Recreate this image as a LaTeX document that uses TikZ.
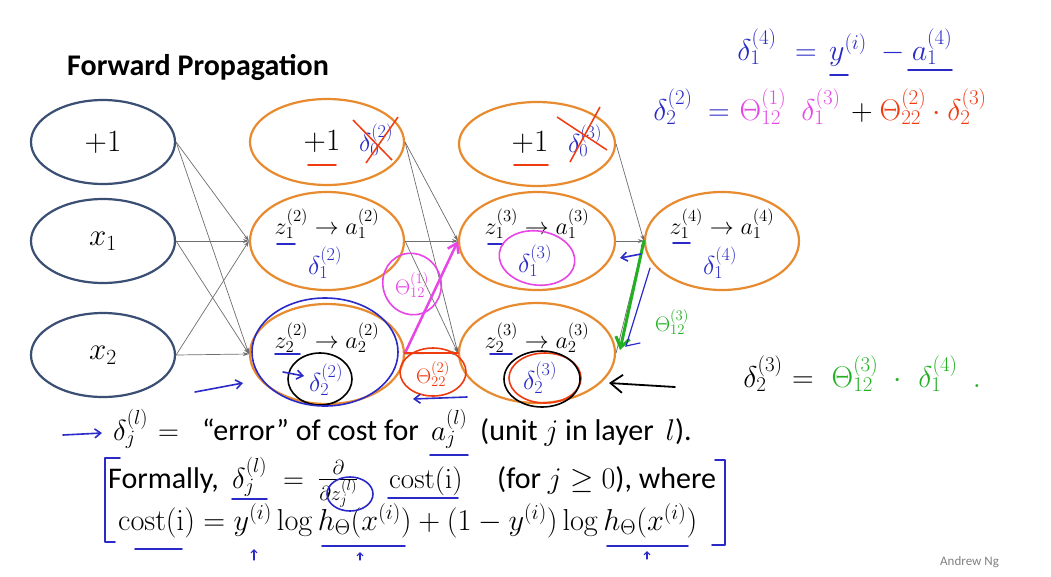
\RequirePackage{fix-cm}
\documentclass[tikz,border=0pt]{standalone}
\usepackage[no-math]{fontspec}
\setmainfont{Carlito}
\usepackage{graphicx}
\usetikzlibrary{shapes.geometric,arrows.meta}
\definecolor{inkA}{HTML}{3A4F73}
\definecolor{orng}{HTML}{E88A2E}
\definecolor{hblue}{HTML}{2A2AC8}
\definecolor{hmag}{HTML}{E646E6}
\definecolor{hred}{HTML}{F03A10}
\definecolor{hgreen}{HTML}{22B022}
\definecolor{lgray}{HTML}{6E6E6E}
\begin{document}
\begin{tikzpicture}[x=1pt,y=-1pt,
  inL/.style={ellipse,draw=inkA,line width=2.2pt,minimum width=144pt,minimum height=84pt,inner sep=0pt,font=\fontsize{31}{34}\selectfont},
  hid/.style={ellipse,draw=orng,line width=2.2pt,inner sep=0pt},
  conn/.style={draw=lgray,line width=0.7pt,-{Stealth[length=6pt,width=4pt]}},
  bigtxt/.style={font=\fontsize{31}{34}\selectfont,inner sep=0pt},
  ztxt/.style={font=\fontsize{24}{28}\selectfont,inner sep=0pt},
  hw/.style={font=\fontsize{26}{30}\selectfont,inner sep=0pt},
  hwb/.style={font=\fontsize{30}{34}\selectfont,inner sep=0pt,anchor=base},
  hws/.style={font=\fontsize{21}{24}\selectfont,inner sep=0pt},
  hline/.style={line width=1.6pt,line cap=round},
  hcirc/.style={ellipse,draw,line width=1.6pt,inner sep=0pt},
  harr/.style={line width=1.6pt,line cap=round,-{Straight Barb[length=6pt,width=9pt]}},
  body/.style={font=\fontsize{30}{34}\selectfont,anchor=base west,inner sep=0pt},
  bmath/.style={font=\fontsize{29}{32}\selectfont,anchor=base west,inner sep=0pt},
]
\useasboundingbox (0,0) rectangle (1051,576);
\fill[white] (0,0) rectangle (1051,576);

% title
\node[font=\fontsize{30}{34}\selectfont\bfseries,anchor=base west,inner sep=0pt] (title) at (67,75) {Forward Propagation};

% layer 1
\node[inL] (i0) at (103,142) {$+1$};
\node[inL] (i1) at (103,241) {$x_1$};
\node[inL] (i2) at (103,355) {$x_2$};
% layer 2
\node[hid,minimum width=154pt,minimum height=86pt] (h0) at (327,142) {};
\node[hid,minimum width=154pt,minimum height=98pt] (h1) at (327,241) {};
\node[hid,minimum width=154pt,minimum height=100pt] (h2) at (327,354) {};
% layer 3
\node[hid,minimum width=156pt,minimum height=84pt] (g0) at (537,144) {};
\node[hid,minimum width=156pt,minimum height=98pt] (g1) at (537,241) {};
\node[hid,minimum width=156pt,minimum height=100pt] (g2) at (537,353) {};
% layer 4
\node[hid,minimum width=154pt,minimum height=98pt] (o1) at (722,241) {};

% connectors
\foreach \s in {i0,i1,i2} \foreach \t in {h1,h2} \draw[conn] (\s.east) -- (\t.west);
\foreach \s in {h0,h1,h2} \foreach \t in {g1,g2} \draw[conn] (\s.east) -- (\t.west);
\foreach \s in {g0,g1,g2} \draw[conn] (\s.east) -- (o1.west);

% node texts
\node[bigtxt] (h0p) at (322,141) {$+1$};
\draw[hred,hline] (308,165) -- (336,165);
\node[hw,text=hblue] (h0d) at (376,140) {$\delta^{(2)}_{0}$};
\draw[hred,line width=1.5pt] (353,120) -- (392,160) (398,117) -- (366,163);

\node[bigtxt] (g0p) at (530,142) {$+1$};
\draw[hred,hline] (514,165) -- (548,165);
\node[hw,text=hblue] (g0d) at (585,141) {$\delta^{(3)}_{0}$};
\draw[hred,line width=1.5pt] (557,117) -- (607,150) (600,107) -- (570,162);

\node[ztxt] (h1z) at (327,224) {$z^{(2)}_1 \to a^{(2)}_1$};
\draw[hblue,hline] (277,244) -- (295,244);
\node[hw,text=hblue] (h1d) at (325,263) {$\delta^{(2)}_1$};

\node[ztxt] (h2z) at (327,338) {$z^{(2)}_2 \to a^{(2)}_2$};
\draw[hblue,hline] (275,354) -- (300,354);
\node[hw,text=hblue] (h2d) at (326,380) {$\delta^{(2)}_2$};
\node[hcirc,draw=black,minimum width=64pt,minimum height=52pt] (h2c) at (320,379) {};
\draw[hblue,harr] (283,372) -- (304,376);
\node[hcirc,draw=hblue,minimum width=146pt,minimum height=108pt] (h2b) at (325,352) {};
\draw[hblue,harr] (195,392) -- (243,383);

\node[ztxt] (g1z) at (537,224) {$z^{(3)}_1 \to a^{(3)}_1$};
\draw[hblue,hline] (488,244) -- (503,244);
\node[hw,text=hblue] (g1d) at (535,261) {$\delta^{(3)}_1$};
\node[hcirc,draw=hmag,minimum width=76pt,minimum height=54pt,rotate=-8] (g1c) at (537,258) {};

\node[ztxt] (g2z) at (537,338) {$z^{(3)}_2 \to a^{(3)}_2$};
\draw[hblue,hline] (490,354) -- (512,354);
\node[hw,text=hblue] (g2d) at (540,378) {$\delta^{(3)}_2$};
\node[hcirc,draw=hred,minimum width=72pt,minimum height=50pt] (g2r) at (545,378) {};
\node[hcirc,draw=black,minimum width=76pt,minimum height=56pt] (g2c) at (542,379) {};

\node[ztxt] (o1z) at (722,224) {$z^{(4)}_1 \to a^{(4)}_1$};
\draw[hblue,hline] (673,243) -- (690,243);
\node[hw,text=hblue] (o1d) at (720,263) {$\delta^{(4)}_1$};

% magenta annotation
\node[hws,text=hmag] (m1) at (412,285) {$\Theta^{(1)}_{12}$};
\node[hcirc,draw=hmag,minimum width=58pt,minimum height=62pt,rotate=20] (m1c) at (412,284) {};
\coordinate (mstart) at (405,353);
\draw[hmag,line width=2.5pt,line cap=round,-{Straight Barb[length=9pt,width=12pt]}] (mstart) -- (g1.west);

% red annotation
\draw[hred,line width=2.5pt,line cap=round] (mstart) -- (g2.west);
\node[hws,text=hred] (r1) at (433,374) {$\Theta^{(2)}_{22}$};
\node[hcirc,draw=hred,minimum width=66pt,minimum height=48pt] (r1c) at (433,372) {};
\coordinate (rb1) at (467,397); \coordinate (rb2) at (413,399);
\draw[hblue,harr] (rb1) -- (rb2);

% green annotation
\coordinate (gend) at (620,350);
\draw[hgreen,line width=3pt,line cap=round,-{Straight Barb[length=10pt,width=14pt]}] (o1.west) -- (gend);
\draw[hblue,line width=1.2pt,line cap=round] (650,268) -- (626,346) -- (640,343);
\draw[hblue,harr] (641,254) -- (620,258);
\node[hws,text=hgreen] (gt) at (672,322) {$\Theta^{(3)}_{12}$};

% black arrow
\coordinate (ba1) at (675,387); \coordinate (ba2) at (609,383);
\draw[black,line width=1.8pt,line cap=round,-{Straight Barb[length=12pt,width=18pt]}] (ba1) -- (ba2);

% top-right formulas
\node[hwb,text=hblue] (f1a) at (757,60) {$\delta^{(4)}_1$};
\node[hwb,text=hblue] (f1b) at (806,60) {$=$};
\node[hwb,text=hblue] (f1c) at (848,60) {$y^{(i)}$};
\node[hwb,text=hblue] (f1d) at (893,60) {$-$};
\node[hwb,text=hblue] (f1e) at (932,60) {$a^{(4)}_{1}$};
\draw[hblue,hline] (830,75) -- (848,75);
\draw[hblue,hline] (908,70) -- (952,70);

\node[hwb,text=hblue] (f2a) at (673,120) {$\delta^{(2)}_2$};
\node[hwb,text=hblue] (f2b) at (719,120) {$=$};
\node[hwb,text=hmag] (f2c) at (763,120) {$\Theta^{(1)}_{12}$};
\node[hwb,text=hmag] (f2d) at (821,120) {$\delta^{(3)}_1$};
\node[hwb] (f2e) at (862,120) {$+$};
\node[hwb,text=hred] (f2f) at (903,120) {$\Theta^{(2)}_{22}$};
\node[hwb,text=hred] (f2g) at (937,120) {$\cdot$};
\node[hwb,text=hred] (f2h) at (967,120) {$\delta^{(3)}_2$};

\node[hwb] (f3a) at (763,387) {$\delta^{(3)}_2$};
\node[hwb] (f3b) at (803,387) {$=$};
\node[hwb,text=hgreen] (f3c) at (855,387) {$\Theta^{(3)}_{12}$};
\node[hwb,text=hgreen] (f3d) at (898,387) {$\cdot$};
\node[hwb,text=hgreen] (f3e) at (938,387) {$\delta^{(4)}_1$};
\node[hwb,text=hgreen] (f3f) at (977,387) {$.$};

% bottom text, line 1
\coordinate (ar1) at (63,435); \coordinate (ar2) at (102,433);
\draw[hblue,harr] (ar1) -- (ar2);
\node[bmath] (L1a) at (113,440) {$\delta^{(l)}_j$};
\node[bmath] (L1b) at (158,440) {$=$};
\node[body] (L1c) at (202,440) {“error” of cost for};
\node[bmath] (L1d) at (431,440) {$a^{(l)}_j$};
\node[body] (L1e) at (480,440) {(unit $j$ in layer $\,l$).};
% line 2
\node[body] (L2a) at (108,488) {Formally,};
\node[bmath] (L2b) at (232,488) {$\delta^{(l)}_j$};
\node[bmath] (L2c) at (283,488) {$=$};
\node[bmath] (L2d) at (318,486) {$\frac{\partial}{\partial z^{(l)}_j}$};
\node[bmath] (L2e) at (389,488) {$\mathrm{cost(i)}$};
\node[body] (L2f) at (497,488) {(for $j \ge 0$), where};
% line 3
\node[bmath] (L3) at (118,530) {\resizebox{579pt}{!}{$\mathrm{cost(i)} = y^{(i)}\log h_\Theta(x^{(i)}) + (1-y^{(i)})\log h_\Theta(x^{(i)})$}};

% blue bracket and marks
\draw[hblue,line width=1.6pt,line cap=round,line join=round] (120,458) -- (105,458) -- (105,542) -- (115,542);
\draw[hblue,line width=1.6pt,line cap=round,line join=round] (715,460) -- (725,460) -- (725,545) -- (712,545);
\draw[hblue,hline] (430,455) -- (468,455);
\draw[hblue,hline] (232,499) -- (267,499);
\draw[hblue,hline] (388,498) -- (458,498);
\node[hcirc,draw=hblue,minimum width=46pt,minimum height=34pt] (zc) at (350,494) {};
\draw[hblue,hline] (135,549) -- (182,549);
\draw[hblue,hline] (322,546) -- (405,546);
\draw[hblue,hline] (607,546) -- (688,546);
\draw[hblue,line width=1.2pt,line cap=round,-{Straight Barb[length=3pt,width=6pt]}] (254,560) -- (254,549);
\draw[hblue,line width=1.2pt,line cap=round,-{Straight Barb[length=3pt,width=6pt]}] (360,560) -- (360,552);
\draw[hblue,line width=1.2pt,line cap=round,-{Straight Barb[length=3pt,width=6pt]}] (647,559) -- (647,551);

\node[font=\fontsize{13}{15}\selectfont,text=gray,anchor=base west,inner sep=0pt] (ng) at (940,565) {Andrew Ng};
\end{tikzpicture}
\end{document}
